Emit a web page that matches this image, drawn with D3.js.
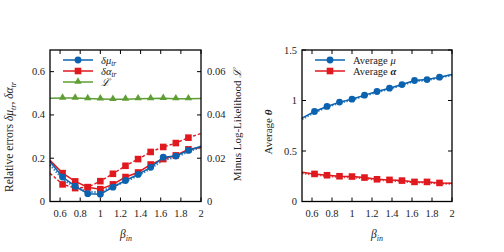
<!DOCTYPE html>
<html>
<head>
<meta charset="utf-8">
<script src="https://cdn.jsdelivr.net/npm/d3@7"></script>
<style>
  body { margin: 0; background: #fff; }
  svg text { font-family: "Liberation Serif", "DejaVu Serif", serif; fill: #222; }
</style>
</head>
<body>
<div id="chart"></div>
<script>
// beta_in grid used by every series
const betaIn = [0.5, 0.625, 0.75, 0.875, 1, 1.125, 1.25, 1.375, 1.5, 1.625, 1.75, 1.875, 2];
const xTicks = [0.6, 0.8, 1, 1.2, 1.4, 1.6, 1.8, 2];

// left panel: relative errors
const dMuSolid   = [0.185, 0.113, 0.071, 0.036, 0.034, 0.066, 0.097, 0.125, 0.158, 0.205, 0.210, 0.236, 0.255];
const dMuDotted  = [0.170, 0.104, 0.066, 0.044, 0.043, 0.070, 0.092, 0.120, 0.152, 0.192, 0.204, 0.231, 0.250];
const dAlSolid   = [0.190, 0.131, 0.093, 0.066, 0.057, 0.079, 0.113, 0.134, 0.171, 0.196, 0.213, 0.241, 0.249];
const dAlDashed  = [0.131, 0.079, 0.062, 0.066, 0.094, 0.128, 0.165, 0.196, 0.229, 0.252, 0.270, 0.295, 0.314];
const logLik     = [0.0477, 0.0478, 0.0478, 0.0476, 0.0474, 0.0472, 0.0473, 0.0475, 0.0476, 0.0477, 0.0475, 0.0475, 0.0476];
const leftTicks  = [0, 0.2, 0.4, 0.6];
const llTicks    = [0, 0.02, 0.04, 0.06];

// right panel: average parameters
const avgMu        = [0.826, 0.891, 0.941, 0.984, 1.013, 1.053, 1.089, 1.122, 1.158, 1.198, 1.207, 1.231, 1.257];
const avgMuDotted  = [0.815, 0.882, 0.934, 0.976, 1.006, 1.046, 1.083, 1.116, 1.152, 1.192, 1.202, 1.226, 1.252];
const avgAlpha     = [0.289, 0.273, 0.260, 0.250, 0.247, 0.237, 0.220, 0.214, 0.207, 0.194, 0.194, 0.184, 0.181];
const avgAlDotted  = [0.280, 0.266, 0.252, 0.243, 0.240, 0.230, 0.214, 0.208, 0.201, 0.188, 0.188, 0.179, 0.176];
const rightTicks   = [0, 0.5, 1, 1.5];

const BLUE = "#0b63b0", RED = "#e0191f", GREEN = "#5f9e34";

const svg = d3.select("#chart").append("svg")
  .attr("width", 504).attr("height", 252);

function seriesOf(vals) {
  return betaIn.map((b, i) => ({ x: b, y: vals[i] }));
}

function drawMarker(g, kind, cx, cy, color) {
  if (kind === "circle") {
    g.append("circle").attr("cx", cx).attr("cy", cy).attr("r", 3.4).attr("fill", color);
  } else if (kind === "square") {
    g.append("rect").attr("x", cx - 3.3).attr("y", cy - 3.3)
      .attr("width", 6.6).attr("height", 6.6).attr("fill", color);
  } else {
    g.append("path").attr("d", d3.symbol(d3.symbolTriangle, 24)())
      .attr("transform", "translate(" + cx + "," + (cy - 0.5) + ")").attr("fill", color);
  }
}

function drawSeries(g, x, y, vals, color, dash, marker, width, opacity) {
  const line = d3.line().x(d => x(d.x)).y(d => y(d.y));
  const data = seriesOf(vals);
  g.append("path").datum(data)
    .attr("fill", "none").attr("stroke", color)
    .attr("stroke-width", width || 1.5)
    .attr("stroke-dasharray", dash || null)
    .attr("opacity", opacity || 1)
    .attr("d", line);
  if (marker) {
    data.slice(1, -1).forEach(d => drawMarker(g, marker, x(d.x), y(d.y), color));
  }
}

function frame(g, x, y, yTicks, yFmt, right, rTicks, rFmt) {
  const [x0, x1] = x.range();
  const [y0, y1] = y.range();
  // x ticks bottom + mirrored on top
  xTicks.forEach(t => {
    g.append("line").attr("x1", x(t)).attr("x2", x(t)).attr("y1", y0).attr("y2", y0 - 4)
      .attr("stroke", "#000").attr("stroke-width", 1);
    g.append("line").attr("x1", x(t)).attr("x2", x(t)).attr("y1", y1).attr("y2", y1 + 4)
      .attr("stroke", "#000").attr("stroke-width", 1);
    g.append("text").attr("x", x(t)).attr("y", y0 + 15).attr("text-anchor", "middle")
      .attr("font-size", 10.5).text(t);
  });
  yTicks.forEach(t => {
    g.append("line").attr("x1", x0).attr("x2", x0 + 4).attr("y1", y(t)).attr("y2", y(t))
      .attr("stroke", "#000").attr("stroke-width", 1);
    if (!right) {
      g.append("line").attr("x1", x1).attr("x2", x1 - 4).attr("y1", y(t)).attr("y2", y(t))
        .attr("stroke", "#000").attr("stroke-width", 1);
    }
    g.append("text").attr("x", x0 - 5).attr("y", y(t) + 3.5).attr("text-anchor", "end")
      .attr("font-size", 10.5).text(yFmt(t));
  });
  if (right) {
    rTicks.forEach(t => {
      g.append("line").attr("x1", x1).attr("x2", x1 - 4).attr("y1", right(t)).attr("y2", right(t))
        .attr("stroke", "#000").attr("stroke-width", 1);
      g.append("text").attr("x", x1 + 6).attr("y", right(t) + 3.5).attr("text-anchor", "start")
        .attr("font-size", 10.5).text(rFmt(t));
    });
  }
  g.append("rect").attr("x", x0).attr("y", y1).attr("width", x1 - x0).attr("height", y0 - y1)
    .attr("fill", "none").attr("stroke", "#000").attr("stroke-width", 1.3);
}

function betaLabel(g, cx, cy) {
  const t = g.append("text").attr("x", cx).attr("y", cy).attr("text-anchor", "middle").attr("font-size", 11.5);
  t.append("tspan").attr("font-style", "italic").text("β");
  t.append("tspan").attr("font-style", "italic").attr("font-size", 8).attr("dy", 2.5).text("in");
}

function legendRow(g, x0, x1, yy, color, marker, parts) {
  g.append("line").attr("x1", x0).attr("x2", x1).attr("y1", yy).attr("y2", yy)
    .attr("stroke", color).attr("stroke-width", 1.5);
  drawMarker(g, marker, (x0 + x1) / 2, yy, color);
  const t = g.append("text").attr("x", x1 + 8).attr("y", yy + 3.5).attr("font-size", 10.5);
  parts.forEach(p => {
    const s = t.append("tspan").text(p.t);
    if (p.i) s.attr("font-style", "italic");
    if (p.b) s.attr("font-weight", "bold");
    if (p.sub) s.attr("font-size", 7.5).attr("dy", 2.5);
    if (p.up) s.attr("dy", -2.5);
  });
}

// ---------- left panel ----------
const xL = d3.scaleLinear().domain([0.5, 2]).range([50, 201]);
const yL = d3.scaleLinear().domain([0, 0.7]).range([201.5, 50]);
const yLL = d3.scaleLinear().domain([0, 0.07]).range([201.5, 50]);
const gL = svg.append("g");

drawSeries(gL, xL, yLL, logLik, GREEN, null, "triangle", 1.5);
drawSeries(gL, xL, yL, dAlDashed, RED, "3,2", "square", 1.4);
drawSeries(gL, xL, yL, dMuDotted, BLUE, "1.5,1.5", null, 2.2, 0.8);
drawSeries(gL, xL, yL, dAlSolid, RED, null, "square", 1.5);
drawSeries(gL, xL, yL, dMuSolid, BLUE, null, "circle", 1.5);

frame(gL, xL, yL, leftTicks, d => d, yLL, llTicks, d => d);

legendRow(gL, 63, 93, 60, BLUE, "circle", [{ t: "δμ", i: 1 }, { t: "tr", i: 1, sub: 1 }]);
legendRow(gL, 63, 93, 71, RED, "square", [{ t: "δα", i: 1 }, { t: "tr", i: 1, sub: 1 }]);
legendRow(gL, 63, 93, 82, GREEN, "triangle", [{ t: "ℒ", i: 1 }]);

betaLabel(gL, 126, 238);
gL.append("text").attr("transform", "translate(13,137) rotate(-90)")
  .attr("text-anchor", "middle").attr("font-size", 11.5)
  .call(t => {
    t.append("tspan").text("Relative errors ");
    t.append("tspan").attr("font-style", "italic").text("δμ");
    t.append("tspan").attr("font-style", "italic").attr("font-size", 8).attr("dy", 2.5).text("tr");
    t.append("tspan").attr("dy", -2.5).text(", ");
    t.append("tspan").attr("font-style", "italic").text("δα");
    t.append("tspan").attr("font-style", "italic").attr("font-size", 8).attr("dy", 2.5).text("tr");
  });
gL.append("text").attr("transform", "translate(241,125) rotate(-90)")
  .attr("text-anchor", "middle").attr("font-size", 11)
  .call(t => {
    t.append("tspan").text("Minus Log-Likelihood ");
    t.append("tspan").attr("font-style", "italic").text("ℒ");
  });

// ---------- right panel ----------
const xR = d3.scaleLinear().domain([0.5, 2]).range([302, 452]);
const yR = d3.scaleLinear().domain([0, 1.5]).range([201.5, 50]);
const gR = svg.append("g");

drawSeries(gR, xR, yR, avgAlDotted, RED, "1.5,1.5", null, 2.2, 0.8);
drawSeries(gR, xR, yR, avgMuDotted, BLUE, "1.5,1.5", null, 2.2, 0.8);
drawSeries(gR, xR, yR, avgAlpha, RED, null, "square", 1.5);
drawSeries(gR, xR, yR, avgMu, BLUE, null, "circle", 1.5);

frame(gR, xR, yR, rightTicks, d => d, null);

legendRow(gR, 315, 345, 60, BLUE, "circle", [{ t: "Average " }, { t: "μ", i: 1 }]);
legendRow(gR, 315, 345, 71, RED, "square", [{ t: "Average " }, { t: "α", i: 1, b: 1 }]);

betaLabel(gR, 377, 238);
gR.append("text").attr("transform", "translate(272,132) rotate(-90)")
  .attr("text-anchor", "middle").attr("font-size", 11)
  .call(t => {
    t.append("tspan").text("Average ");
    t.append("tspan").attr("font-style", "italic").attr("font-weight", "bold").text("θ");
  });
</script>
</body>
</html>
